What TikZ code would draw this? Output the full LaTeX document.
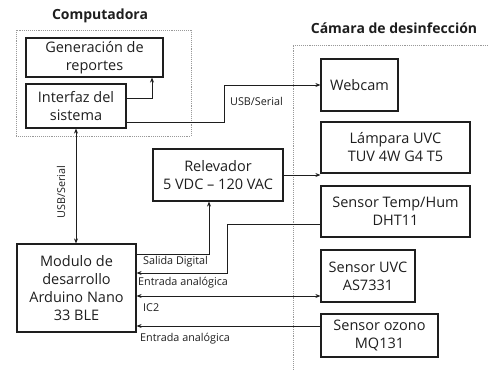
\documentclass[tikz,border=0pt]{standalone}
\usepackage{fontspec}
\setmainfont{Open Sans}
\usetikzlibrary{arrows.meta}
\definecolor{ink}{RGB}{30,30,30}
\tikzset{
  box/.style={draw=ink, line width=1.2pt, rectangle, inner sep=0pt, align=center, text=ink,
    font=\fontsize{14.5}{18}\selectfont},
  conn/.style={draw=ink, line width=0.9pt},
  arr/.style={conn, -{Stealth[length=5pt,width=4pt]}},
  darr/.style={conn, {Stealth[length=5pt,width=4pt]}-{Stealth[length=5pt,width=4pt]}},
  grp/.style={draw=gray!80, line width=0.9pt, densely dotted},
  ttl/.style={font=\bfseries\fontsize{14}{16}\selectfont, text=ink, inner sep=0pt},
  lbl/.style={font=\fontsize{10.8}{12}\selectfont, text=ink, inner sep=0pt}
}
\begin{document}
\begin{tikzpicture}[x=1pt,y=-1pt]
\useasboundingbox (0,0) rectangle (488,370);
% groups
\draw[grp] (16,30) rectangle (191,136);
\draw[grp] (488,45) -- (293,45) -- (293,370);
\node[ttl] (t1) at (100,16) {Computadora};
\node[ttl] (t2) at (394,28) {Cámara de desinfección};
% boxes
\node[box, minimum width=137pt, minimum height=39pt] (gen) at (94.5,57.5) {Generación de\\reportes};
\node[box, minimum width=100pt, minimum height=44pt] (inter) at (76,106) {Interfaz del\\sistema};
\node[box, minimum width=130pt, minimum height=52pt] (rel) at (218,175) {Relevador\\5 VDC – 120 VAC};
\node[box, minimum width=119pt, minimum height=88pt] (mod) at (76.5,288) {Modulo de\\desarrollo\\Arduino Nano\\33 BLE};
\node[box, minimum width=77pt, minimum height=52pt] (web) at (359.5,85) {Webcam};
\node[box, minimum width=149pt, minimum height=51pt] (lamp) at (395.5,147.5) {Lámpara UVC\\TUV 4W G4 T5};
\node[box, minimum width=149pt, minimum height=51pt] (temp) at (395.5,211.5) {Sensor Temp/Hum\\DHT11};
\node[box, minimum width=94pt, minimum height=52pt] (uvc) at (368,276) {Sensor UVC\\AS7331};
\node[box, minimum width=117pt, minimum height=43pt] (ozo) at (379.5,335.5) {Sensor ozono\\MQ131};
% connectors
\draw[arr] ([yshift=8pt]inter.east) -| ([xshift=57.5pt]gen.south);
\draw[arr] ([yshift=-16pt]inter.east) -- ++(98pt,0) |- (web.west);
\node[lbl, anchor=west] (l1) at (230,101) {USB/Serial};
\draw[darr] (inter.south) -- (inter.south |- mod.north);
\node[lbl, rotate=90] (l2) at (61,192) {USB/Serial};
\draw[arr] (rel.east) -- (rel.east -| lamp.west);
\draw[arr] ([yshift=34pt]mod.east) -| ([xshift=-9pt]rel.south);
\node[lbl, anchor=west] (l3) at (143,262) {Salida Digital};
\draw[arr] ([yshift=-12.5pt]temp.west) -- ++(-93pt,0) |- ([yshift=15pt]mod.east);
\node[lbl, anchor=west] (l4) at (138,283) {Entrada analógica};
\draw[darr] ([yshift=-8pt]mod.east) -- ([yshift=-20pt]uvc.west);
\node[lbl, anchor=west] (l5) at (143,308) {IC2};
\draw[arr] ([yshift=9.5pt]ozo.west) -- ([yshift=-38pt]mod.east);
\node[lbl, anchor=west] (l6) at (140,339) {Entrada analógica};
\end{tikzpicture}
\end{document}
